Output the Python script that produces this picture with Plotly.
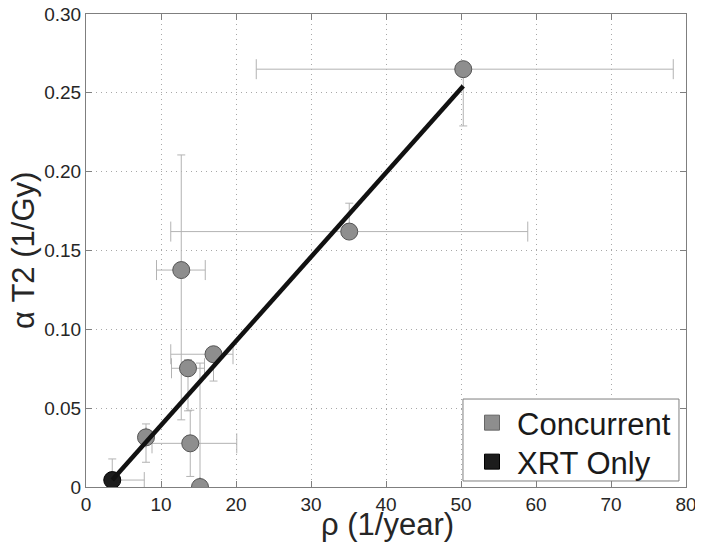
import plotly.graph_objects as go

# Concurrent group (rho in 1/year, alpha T2 in 1/Gy) with asymmetric error bars
conc_rho = [50.3, 35.1, 12.7, 17.0, 13.6, 13.9, 8.0, 15.2]
conc_alpha = [0.265, 0.162, 0.1376, 0.0842, 0.0753, 0.0277, 0.0315, 0.0]
conc_rho_plus = [28.0, 23.8, 3.2, 2.6, 2.2, 6.2, 0.0, 0.0]
conc_rho_minus = [27.6, 23.8, 3.3, 5.7, 2.2, 5.1, 0.0, 0.0]
conc_alpha_plus = [0.0, 0.018, 0.073, 0.0, 0.0055, 0.021, 0.0085, 0.0786]
conc_alpha_minus = [0.036, 0.0, 0.095, 0.017, 0.027, 0.021, 0.0158, 0.0]

# XRT only group
xrt_rho = [3.5]
xrt_alpha = [0.0044]
xrt_rho_plus = [4.27]
xrt_alpha_plus = [0.0134]

# Linear fit line end points
fit_rho = [3.5, 50.3]
fit_alpha = [0.0044, 0.2543]

x_ticks = [0, 10, 20, 30, 40, 50, 60, 70, 80]
y_ticks = [0, 0.05, 0.10, 0.15, 0.20, 0.25, 0.30]
y_tick_text = ["0", "0.05", "0.10", "0.15", "0.20", "0.25", "0.30"]

err_col = "#b3b3b3"
conc_col = "#8e8e8e"
xrt_col = "#1c1c1c"
FONT = "Liberation Sans, Arial, sans-serif"

fig = go.Figure()

fig.add_trace(go.Scatter(
    x=conc_rho, y=conc_alpha, mode="markers", showlegend=False,
    marker=dict(size=17, color=conc_col, line=dict(color="#555555", width=1)),
    error_x=dict(type="data", symmetric=False, array=conc_rho_plus,
                 arrayminus=conc_rho_minus, color=err_col, thickness=1, width=10),
    error_y=dict(type="data", symmetric=False, array=conc_alpha_plus,
                 arrayminus=conc_alpha_minus, color=err_col, thickness=1, width=4),
))

fig.add_trace(go.Scatter(
    x=xrt_rho, y=xrt_alpha, mode="markers", showlegend=False,
    marker=dict(size=17, color=xrt_col, line=dict(color="#000000", width=1)),
    error_x=dict(type="data", symmetric=False, array=xrt_rho_plus,
                 arrayminus=[0], color=err_col, thickness=1, width=8),
    error_y=dict(type="data", symmetric=False, array=xrt_alpha_plus,
                 arrayminus=[0], color=err_col, thickness=1, width=4),
))

fig.add_trace(go.Scatter(
    x=fit_rho, y=fit_alpha, mode="lines", showlegend=False,
    line=dict(color="#111111", width=4.5),
))

# legend entries (square symbols), one per legend so spacing can be matched
fig.add_trace(go.Scatter(
    x=[None], y=[None], mode="markers", name="Concurrent", legend="legend",
    marker=dict(symbol="square", size=15, color=conc_col, line=dict(color="#666666", width=1)),
))
fig.add_trace(go.Scatter(
    x=[None], y=[None], mode="markers", name="XRT Only", legend="legend2",
    marker=dict(symbol="square", size=15, color=xrt_col, line=dict(color="#000000", width=1)),
))

axis_common = dict(
    showline=True, linecolor="#7f7f7f", linewidth=1, mirror="ticks",
    ticks="inside", ticklen=6, tickcolor="#7f7f7f",
    showgrid=True, gridcolor="#a8a8a8", griddash="1px,4px", gridwidth=1,
    zeroline=False, automargin=False, ticklabeloverflow="allow",
    tickfont=dict(family=FONT, size=19, color="#262626"),
)

fig.update_xaxes(range=[0, 80], tickvals=x_ticks, **axis_common)
fig.update_yaxes(range=[0, 0.30], tickvals=y_ticks, ticktext=y_tick_text, **axis_common)

# axis titles placed as annotations for precise positioning
fig.add_annotation(
    text="ρ (1/year)", xref="paper", yref="paper", x=0.503, y=-0.080,
    xanchor="center", yanchor="middle", showarrow=False,
    font=dict(family=FONT, size=31, color="#262626"),
)
fig.add_annotation(
    text="α T2 (1/Gy)", xref="paper", yref="paper", x=-0.104, y=0.5,
    xanchor="center", yanchor="middle", textangle=-90, showarrow=False,
    font=dict(family=FONT, size=31, color="#262626"),
)

# legend box
fig.add_shape(
    type="rect", xref="paper", yref="paper",
    x0=0.6283, x1=0.9883, y0=0.0127, y1=0.186,
    line=dict(color="#7f7f7f", width=1), fillcolor="white", layer="above",
)

legend_common = dict(
    xanchor="left", yanchor="middle", bgcolor="rgba(0,0,0,0)", borderwidth=0,
    font=dict(family=FONT, size=31, color="#1a1a1a"), itemwidth=40,
)

# page body has an 8px margin, so the figure is shifted by 8px
fig.update_layout(
    width=695, height=544,
    margin=dict(l=78, r=17, t=6, b=65),
    paper_bgcolor="white", plot_bgcolor="white",
    font=dict(family=FONT, color="#262626"),
    legend=dict(x=0.635, y=0.1353, **legend_common),
    legend2=dict(x=0.635, y=0.0529, **legend_common),
)

fig.write_html("out.html")
